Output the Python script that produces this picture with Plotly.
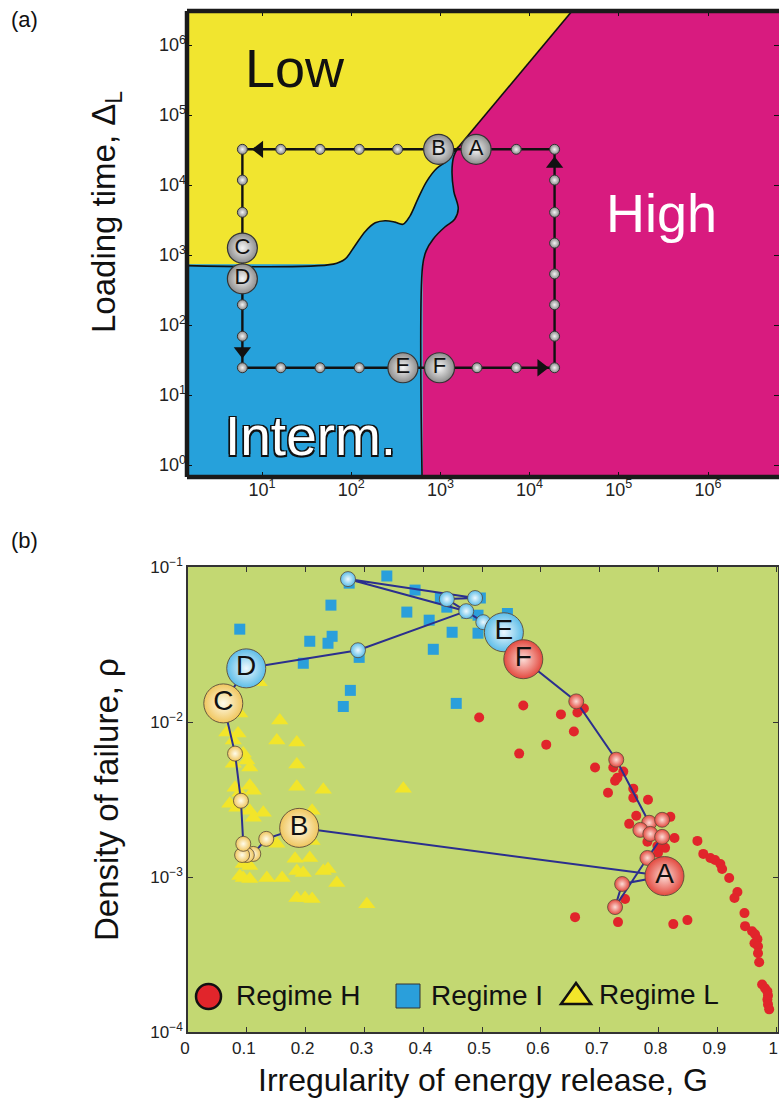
import plotly.graph_objects as go

W, H = 779, 1106
FONT = "Liberation Sans, Arial, Helvetica, sans-serif"

# ---------------- panel (a): regime map, values in log10 units ----------------
# Low / Interm. boundary (left to right, ending at the triple point)
low_int_lx = [-0.5, 1.80, 1.93, 2.04, 2.16, 2.27, 2.38, 2.49, 2.58, 2.66, 2.75, 2.85, 2.96, 3.07, 3.16, 3.20]
low_int_ly = [2.87, 2.87, 2.94, 3.13, 3.34, 3.46, 3.49, 3.47, 3.44, 3.56, 3.81, 4.06, 4.24, 4.34, 4.49, 4.54]
# Interm. / High boundary (from the triple point downwards)
int_high_lx = [3.20, 3.15, 3.13, 3.15, 3.20, 3.16, 3.05, 2.92, 2.84, 2.80, 2.80]
int_high_ly = [4.54, 4.41, 4.20, 3.91, 3.66, 3.51, 3.40, 3.23, 3.06, 2.84, -0.6]
# Low / High boundary (straight line from the triple point to the top edge)
low_high_lx = [3.20, 4.80]
low_high_ly = [4.54, 6.98]

# loading protocol: grid of runs
path_lx = [0.78, 1.21, 1.65, 2.09, 2.52, 2.96, 3.41, 3.85, 4.28]
path_ly = [4.51, 4.07, 3.61, 3.17, 2.73, 2.29, 1.84, 1.39]
# labelled runs
run_labels = ["A", "B", "C", "D", "E", "F"]
run_lx = [3.40, 2.98, 0.78, 0.78, 2.58, 2.99]
run_ly = [4.51, 4.51, 3.10, 2.66, 1.39, 1.39]
# direction arrows along the protocol
arrow_lx = [0.97, 0.78, 4.13, 4.28]
arrow_ly = [4.51, 1.63, 1.39, 4.30]
arrow_sym = ["triangle-left", "triangle-down", "triangle-right", "triangle-up"]

YELLOW = "#F1E52F"
BLUE = "#26A1DB"
MAGENTA = "#D81B7F"

# ---------------- panel (b): failure density vs irregularity ----------------
h_G = [0.495, 0.570, 0.634, 0.662, 0.673, 0.656, 0.609, 0.563, 0.692, 0.723, 0.730, 0.740, 0.726,
       0.714, 0.757, 0.757, 0.782, 0.762, 0.750, 0.820, 0.781, 0.827, 0.811, 0.799, 0.798, 0.866,
       0.876, 0.888, 0.896, 0.905, 0.908, 0.920, 0.934, 0.929, 0.946, 0.947, 0.959, 0.964, 0.968,
       0.963, 0.969, 0.969, 0.971, 0.976, 0.981, 0.985, 0.986, 0.985, 0.986, 0.988, 0.743, 0.658,
       0.731, 0.825, 0.849]
h_logrho = [-1.971, -1.893, -1.951, -1.939, -1.913, -2.061, -2.146, -2.204, -2.294, -2.294, -2.359,
            -2.320, -2.379, -2.456, -2.430, -2.489, -2.502, -2.605, -2.657, -2.612, -2.773, -2.748,
            -2.812, -2.845, -2.800, -2.767, -2.851, -2.877, -2.890, -2.916, -2.948, -3.006, -3.097,
            -3.136, -3.233, -3.317, -3.350, -3.369, -3.401, -3.427, -3.447, -3.492, -3.550, -3.693,
            -3.718, -3.738, -3.764, -3.790, -3.822, -3.854, -3.142, -3.259, -3.291, -3.304, -3.278]

i_G = [0.338, 0.274, 0.386, 0.243, 0.088, 0.372, 0.410, 0.429, 0.440, 0.474, 0.493, 0.449, 0.493,
       0.207, 0.245, 0.238, 0.291, 0.196, 0.417, 0.276, 0.264, 0.456, 0.497, 0.543]
i_logrho = [-1.058, -1.104, -1.149, -1.246, -1.401, -1.291, -1.343, -1.201, -1.259, -1.298, -1.311,
            -1.421, -1.427, -1.479, -1.447, -1.492, -1.583, -1.621, -1.531, -1.796, -1.900, -1.880,
            -1.200, -1.300]

l_G = [0.156, 0.151, 0.185, 0.185, 0.088, 0.066, 0.085, 0.077, 0.094, 0.100, 0.105, 0.077, 0.080,
       0.105, 0.111, 0.185, 0.230, 0.366, 0.088, 0.071, 0.083, 0.105, 0.111, 0.128, 0.211, 0.151,
       0.211, 0.182, 0.207, 0.185, 0.196, 0.230, 0.238, 0.094, 0.105, 0.088, 0.094, 0.105, 0.134,
       0.160, 0.253, 0.185, 0.199, 0.211, 0.304, 0.121]
l_logrho = [-1.990, -2.120, -2.133, -2.275, -1.945, -2.068, -2.074, -2.120, -2.204, -2.249, -2.294,
            -2.269, -2.424, -2.411, -2.443, -2.417, -2.437, -2.430, -2.456, -2.528, -2.553, -2.573,
            -2.618, -2.586, -2.573, -2.786, -2.767, -2.883, -2.877, -2.961, -2.974, -2.961, -2.948,
            -2.916, -2.929, -2.994, -3.006, -3.013, -3.006, -3.006, -3.039, -3.136, -3.136, -3.142,
            -3.175, -1.744]

# trajectory of the loading cycle A -> B -> ... -> F -> ... -> A
traj_G = [0.810, 0.189,
          0.133, 0.111, 0.100, 0.092, 0.094, 0.090, 0.080,
          0.060, 0.099,
          0.289, 0.473, 0.272, 0.488, 0.440, 0.502,
          0.537, 0.570,
          0.660, 0.728, 0.784, 0.806, 0.769, 0.786, 0.806, 0.781, 0.726, 0.738,
          0.810]
traj_logrho = [-2.994, -2.683,
               -2.754, -2.851, -2.858, -2.858, -2.786, -2.508, -2.204,
               -1.880, -1.654,
               -1.537, -1.285, -1.078, -1.200, -1.207, -1.356,
               -1.421, -1.595,
               -1.867, -2.243, -2.650, -2.631, -2.696, -2.722, -2.741, -2.877, -3.194, -3.045,
               -2.994]
# regime of each trajectory point: L (yellow), I (blue), H (red)
traj_regime = ["H", "L",
               "L", "L", "L", "L", "L", "L", "L",
               "L", "I",
               "I", "I", "I", "I", "I", "I",
               "I", "H",
               "H", "H", "H", "H", "H", "H", "H", "H", "H", "H",
               "H"]
traj_label = ["A", "B", "", "", "", "", "", "", "", "C", "D", "", "", "", "", "", "",
              "E", "F", "", "", "", "", "", "", "", "", "", "", ""]

RED = "#E1252B"
SQBLUE = "#2A9FDB"
TRI = "#F2E52A"
sphere_edge = {"H": "#E3493F", "I": "#5DBDE8", "L": "#F0C65E"}
sphere_core = {"H": "#FCDCD6", "I": "#EEF9FE", "L": "#FFFCEB"}

fig = go.Figure()


def tenp(v):
    return [10 ** t for t in v]


# ---- (a) filled regions ----
yel_x = [-0.5, low_high_lx[1]] + low_high_lx[::-1][1:] + low_int_lx[::-1][1:]
yel_y = [6.98, low_high_ly[1]] + low_high_ly[::-1][1:] + low_int_ly[::-1][1:]
mag_x = [low_high_lx[1], 7.5, 7.5] + int_high_lx[::-1]
mag_y = [low_high_ly[1], 6.98, -0.6] + int_high_ly[::-1]
blu_x = [-0.5, -0.5] + low_int_lx[1:] + int_high_lx[1:]
blu_y = [-0.6, low_int_ly[0]] + low_int_ly[1:] + int_high_ly[1:]

for xs, ys, col in [(yel_x, yel_y, YELLOW), (mag_x, mag_y, MAGENTA), (blu_x, blu_y, BLUE)]:
    fig.add_trace(go.Scatter(x=tenp(xs), y=tenp(ys), mode="lines", fill="toself",
                             fillcolor=col, line=dict(width=0), hoverinfo="skip",
                             showlegend=False, xaxis="x", yaxis="y"))

# regime boundaries
for xs, ys in [(low_int_lx, low_int_ly), (int_high_lx, int_high_ly), (low_high_lx, low_high_ly)]:
    fig.add_trace(go.Scatter(x=tenp(xs), y=tenp(ys), mode="lines", line=dict(color="#111", width=1.6),
                             line_shape="spline", hoverinfo="skip", showlegend=False,
                             xaxis="x", yaxis="y"))

# protocol rectangle
rx = [path_lx[0], path_lx[-1], path_lx[-1], path_lx[0], path_lx[0]]
ry = [path_ly[0], path_ly[0], path_ly[-1], path_ly[-1], path_ly[0]]
fig.add_trace(go.Scatter(x=tenp(rx), y=tenp(ry), mode="lines", line=dict(color="#111", width=2.4),
                         hoverinfo="skip", showlegend=False, xaxis="x", yaxis="y"))

# small nodes (unlabelled runs)
nx, ny = [], []
for i, v in enumerate(path_lx):
    if i not in (5, 6):
        nx.append(v); ny.append(path_ly[0])
    if i not in (4, 5):
        nx.append(v); ny.append(path_ly[-1])
for j, v in enumerate(path_ly[1:-1], start=1):
    if j not in (3, 4):
        nx.append(path_lx[0]); ny.append(v)
    nx.append(path_lx[-1]); ny.append(v)
fig.add_trace(go.Scatter(x=tenp(nx), y=tenp(ny), mode="markers",
                         marker=dict(size=10, color="#8A8A8A", line=dict(color="#333", width=1),
                                     gradient=dict(type="radial", color="#F4F4F4")),
                         hoverinfo="skip", showlegend=False, xaxis="x", yaxis="y"))

# arrows
fig.add_trace(go.Scatter(x=tenp(arrow_lx), y=tenp(arrow_ly), mode="markers",
                         marker=dict(size=15, color="#111", symbol=arrow_sym, line=dict(width=0)),
                         hoverinfo="skip", showlegend=False, xaxis="x", yaxis="y"))

# labelled runs
fig.add_trace(go.Scatter(x=tenp(run_lx), y=tenp(run_ly), mode="markers+text", text=run_labels,
                         textposition="middle center",
                         textfont=dict(size=22, color="#111", family=FONT),
                         marker=dict(size=30, color="#8C8C8C", line=dict(color="#333", width=1.2),
                                     gradient=dict(type="radial", color="#F6F6F6")),
                         hoverinfo="skip", showlegend=False, xaxis="x", yaxis="y"))

# ---- (b) scatter of runs ----
fig.add_trace(go.Scatter(x=h_G, y=tenp(h_logrho), mode="markers",
                         marker=dict(size=10, color=RED, line=dict(width=0)),
                         name="Regime H", showlegend=False, xaxis="x2", yaxis="y2"))
fig.add_trace(go.Scatter(x=i_G, y=tenp(i_logrho), mode="markers",
                         marker=dict(size=11, color=SQBLUE, symbol="square", line=dict(width=0)),
                         name="Regime I", showlegend=False, xaxis="x2", yaxis="y2"))
fig.add_trace(go.Scatter(x=l_G, y=tenp(l_logrho), mode="markers",
                         marker=dict(size=15, color=TRI, symbol="triangle-up", line=dict(width=0)),
                         name="Regime L", showlegend=False, xaxis="x2", yaxis="y2"))

# trajectory line
fig.add_trace(go.Scatter(x=traj_G, y=tenp(traj_logrho), mode="lines",
                         line=dict(color="#2B2F8E", width=2), hoverinfo="skip",
                         showlegend=False, xaxis="x2", yaxis="y2"))

# small spheres
sm = [k for k in range(len(traj_G) - 1) if traj_label[k] == "" and k != 0]
fig.add_trace(go.Scatter(x=[traj_G[k] for k in sm], y=tenp([traj_logrho[k] for k in sm]),
                         mode="markers",
                         marker=dict(size=15,
                                     color=[sphere_edge[traj_regime[k]] for k in sm],
                                     line=dict(color="#5A4A3A", width=0.8),
                                     gradient=dict(type="radial",
                                                   color=[sphere_core[traj_regime[k]] for k in sm])),
                         hoverinfo="skip", showlegend=False, xaxis="x2", yaxis="y2"))

# labelled spheres
big_order = ["C", "D", "E", "F", "B", "A"]
bk = [traj_label.index(c) for c in big_order]
fig.add_trace(go.Scatter(x=[traj_G[k] for k in bk], y=tenp([traj_logrho[k] for k in bk]),
                         mode="markers+text", text=big_order, textposition="middle center",
                         textfont=dict(size=28, color="#111", family=FONT),
                         marker=dict(size=39,
                                     color=[sphere_edge[traj_regime[k]] for k in bk],
                                     line=dict(color="#5A4A3A", width=0.9),
                                     gradient=dict(type="radial",
                                                   color=[sphere_core[traj_regime[k]] for k in bk])),
                         hoverinfo="skip", showlegend=False, xaxis="x2", yaxis="y2"))


def P(px, py):
    return px / W, 1 - py / H


tick_a = dict(ticks="inside", ticklen=5, tickwidth=1, tickcolor="#111", mirror="ticks",
              showline=False, showgrid=False, zeroline=False, automargin=False,
              ticklabeloverflow="allow",
              tickfont=dict(size=18, family=FONT, color="#222"))
tick_b = dict(ticks="inside", ticklen=5, tickwidth=1, tickcolor="#333", mirror="ticks",
              showline=True, linecolor="#333", linewidth=1.5, showgrid=False, zeroline=False,
              automargin=False, ticklabeloverflow="allow",
              tickfont=dict(size=17, family=FONT, color="#222"))

fig.update_layout(
    width=W, height=H, margin=dict(l=0, r=0, t=0, b=0, autoexpand=False),
    paper_bgcolor="white", plot_bgcolor="#C3D872",
    xaxis=dict(type="log", domain=[187 / W, 1.0], range=[0.159, 6.796], anchor="y",
               tickvals=[10 ** k for k in range(1, 7)],
               ticktext=["10<sup>%d</sup>" % k for k in range(1, 7)], **tick_a),
    yaxis=dict(type="log", domain=[1 - 477 / H, 1 - 11 / H], range=[-0.171, 6.486], anchor="x",
               tickvals=[10 ** k for k in range(0, 7)],
               ticktext=["10<sup>%d</sup>" % k for k in range(0, 7)], **tick_a),
    xaxis2=dict(domain=[188 / W, 778 / W], range=[0, 1.003], anchor="y2",
                tickvals=[k / 10 for k in range(11)],
                ticktext=["0", "0.1", "0.2", "0.3", "0.4", "0.5", "0.6", "0.7", "0.8", "0.9", "1"],
                ticklabelshift=-3, **tick_b),
    yaxis2=dict(type="log", domain=[1 - 1032 / H, 1 - 567 / H], range=[-4, -1], anchor="x2",
                tickvals=[1e-4, 1e-3, 1e-2, 1e-1],
                ticktext=["10<sup>\u22124</sup>", "10<sup>\u22123</sup>", "10<sup>\u22122</sup>",
                          "10<sup>\u22121</sup>"], **tick_b),
)

# heavy frame of panel (a)
x0a, y0a = P(187, 477)
x1a, y1a = P(779, 11)
frame = [dict(type="line", xref="paper", yref="paper", x0=x0a, x1=x0a, y0=y0a, y1=y1a),
         dict(type="line", xref="paper", yref="paper", x0=x0a, x1=x1a, y0=y1a, y1=y1a),
         dict(type="line", xref="paper", yref="paper", x0=x0a, x1=x1a, y0=y0a, y1=y0a)]
shapes = []
for s in frame:
    s.update(line=dict(color="#1A1A1A", width=4.5), layer="above")
    shapes.append(s)

# legend symbols of panel (b)
cx0, cy0 = P(196, 1009)
cx1, cy1 = P(221, 984)
shapes.append(dict(type="circle", xref="paper", yref="paper", x0=cx0, x1=cx1, y0=cy0, y1=cy1,
                   fillcolor=RED, line=dict(color="#111", width=2.5), layer="above"))
sx0, sy0 = P(396, 1008)
sx1, sy1 = P(420, 984)
shapes.append(dict(type="rect", xref="paper", yref="paper", x0=sx0, x1=sx1, y0=sy0, y1=sy1,
                   fillcolor=SQBLUE, line=dict(color="#333", width=1), layer="above"))
ta, tb, tc = P(576, 983), P(561, 1004), P(591, 1004)
shapes.append(dict(type="path", xref="paper", yref="paper",
                   path="M %f,%f L %f,%f L %f,%f Z" % (ta[0], ta[1], tb[0], tb[1], tc[0], tc[1]),
                   fillcolor=TRI, line=dict(color="#111", width=2.5), layer="above"))
fig.update_layout(shapes=shapes)

ann = []


def text(px, py, s, size, color="#111", angle=0, xanchor="center", family=FONT, shadow=None):
    x, y = P(px, py)
    f = dict(size=size, color=color, family=family)
    if shadow:
        f["shadow"] = shadow
    ann.append(dict(x=x, y=y, xref="paper", yref="paper", text=s, showarrow=False,
                    textangle=angle, xanchor=xanchor, yanchor="middle", font=f))


text(24, 20, "(a)", 22)
text(24, 540, "(b)", 22)
text(295, 68, "Low", 54)
text(661, 213, "High", 54, color="white")
text(310, 436, "Interm.", 55, color="white",
     shadow="-1.5px -1.5px 0 #111, 1.5px -1.5px 0 #111, -1.5px 1.5px 0 #111, 1.5px 1.5px 0 #111")
text(106, 212, "Loading time, \u0394<sub>L</sub>", 33, angle=-90)
text(106, 800, "Density of failure, \u03c1", 33, angle=-90)
text(483, 1080, "Irregularity of energy release, G", 32)
text(234, 996, "Regime H", 28, xanchor="left")
text(429, 996, "Regime I", 28, xanchor="left")
text(597, 994, "Regime L", 28, xanchor="left")
fig.update_layout(annotations=ann)

fig.write_html("out.html")
